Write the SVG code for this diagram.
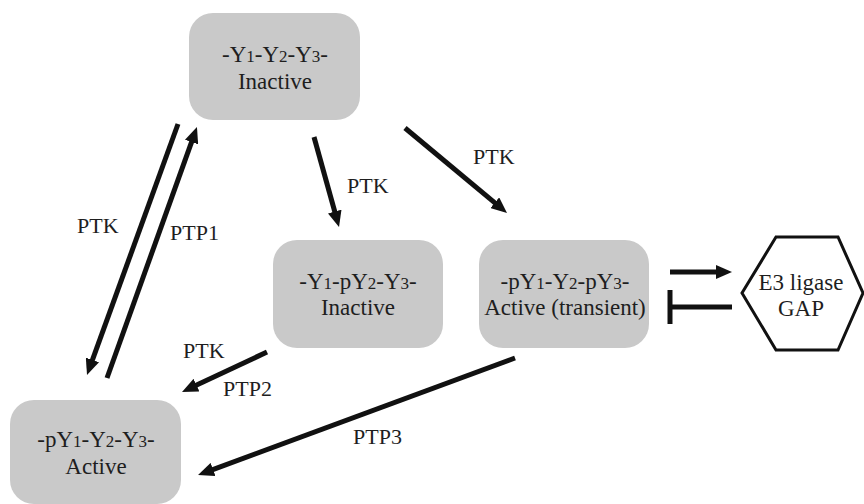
<svg xmlns="http://www.w3.org/2000/svg" width="864" height="504" viewBox="0 0 864 504">
<defs>
<style>
.box{fill:#c9c9c9;}
.ln{stroke:#111;stroke-width:5;fill:none;}
.arr{marker-end:url(#ah);}
</style>
<marker id="ah" markerUnits="userSpaceOnUse" markerWidth="16" markerHeight="14" refX="1" refY="7" orient="auto" viewBox="0 0 16 14">
<path d="M0,0 L16,7 L0,14 z" fill="#111"/>
</marker>
</defs>
<rect width="864" height="504" fill="#ffffff"/>

<g id="connectors">
<line class="ln arr" x1="178" y1="124" x2="92.1" y2="360.9"/>
<line class="ln arr" x1="107" y1="378" x2="191.9" y2="141.1"/>
<line class="ln arr" x1="314" y1="137" x2="335" y2="212.5"/>
<line class="ln arr" x1="405" y1="128" x2="495.5" y2="203.4"/>
<line class="ln arr" x1="267" y1="352" x2="195.6" y2="385.6"/>
<line class="ln arr" x1="515" y1="358" x2="212.1" y2="469.8"/>
<line class="ln arr" x1="670" y1="272" x2="717" y2="272"/>
<line class="ln" x1="670" y1="307" x2="732" y2="307"/>
<line class="ln" x1="670" y1="290" x2="670" y2="324"/>
<text x="77" y="233" font-family="Liberation Serif" font-size="22" fill="#1e1e1e">PTK</text>
<text x="170" y="240" font-family="Liberation Serif" font-size="22" fill="#1e1e1e">PTP1</text>
<text x="347" y="193" font-family="Liberation Serif" font-size="22" fill="#1e1e1e">PTK</text>
<text x="473" y="164" font-family="Liberation Serif" font-size="22" fill="#1e1e1e">PTK</text>
<text x="183" y="358" font-family="Liberation Serif" font-size="22" fill="#1e1e1e">PTK</text>
<text x="223" y="396" font-family="Liberation Serif" font-size="22" fill="#1e1e1e">PTP2</text>
<text x="353" y="444" font-family="Liberation Serif" font-size="22" fill="#1e1e1e">PTP3</text>
</g>

<g id="node-inactive">
<rect class="box" x="189" y="13" width="171" height="107" rx="24"/>
<text x="275" y="62" text-anchor="middle" font-family="Liberation Serif" font-size="23" fill="#1e1e1e">-Y<tspan font-size="17">1</tspan>-Y<tspan font-size="17">2</tspan>-Y<tspan font-size="17">3</tspan>-</text>
<text x="275" y="89" text-anchor="middle" font-family="Liberation Serif" font-size="23" fill="#1e1e1e">Inactive</text>
</g>

<g id="node-py2">
<rect class="box" x="273" y="240" width="170" height="108" rx="24"/>
<text x="358" y="289" text-anchor="middle" font-family="Liberation Serif" font-size="23" fill="#1e1e1e">-Y<tspan font-size="17">1</tspan>-pY<tspan font-size="17">2</tspan>-Y<tspan font-size="17">3</tspan>-</text>
<text x="358" y="315" text-anchor="middle" font-family="Liberation Serif" font-size="23" fill="#1e1e1e">Inactive</text>
</g>

<g id="node-py1py3">
<rect class="box" x="479" y="240" width="170" height="108" rx="24"/>
<text x="565" y="289" text-anchor="middle" font-family="Liberation Serif" font-size="23" fill="#1e1e1e">-pY<tspan font-size="17">1</tspan>-Y<tspan font-size="17">2</tspan>-pY<tspan font-size="17">3</tspan>-</text>
<text x="565" y="315" text-anchor="middle" font-family="Liberation Serif" font-size="23" fill="#1e1e1e">Active (transient)</text>
</g>

<g id="node-py1">
<rect class="box" x="10" y="400" width="171" height="104" rx="24"/>
<text x="96" y="447" text-anchor="middle" font-family="Liberation Serif" font-size="23" fill="#1e1e1e">-pY<tspan font-size="17">1</tspan>-Y<tspan font-size="17">2</tspan>-Y<tspan font-size="17">3</tspan>-</text>
<text x="96" y="474" text-anchor="middle" font-family="Liberation Serif" font-size="23" fill="#1e1e1e">Active</text>
</g>

<g id="node-e3">
<polygon points="742,293 776,237 838,237 863,293 838,350 776,350" fill="#ffffff" stroke="#111" stroke-width="3"/>
<text x="801" y="290" text-anchor="middle" font-family="Liberation Serif" font-size="23" fill="#1e1e1e">E3 ligase</text>
<text x="801" y="316" text-anchor="middle" font-family="Liberation Serif" font-size="23" fill="#1e1e1e">GAP</text>
</g>
</svg>
